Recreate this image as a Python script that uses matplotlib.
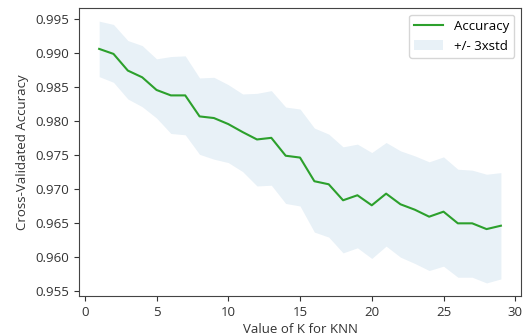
import numpy as np
import matplotlib
matplotlib.use("Agg")
import matplotlib.pyplot as plt

k_values = list(range(1, 30))
accuracy = [0.99066, 0.98992, 0.98746, 0.98647, 0.98460, 0.98380, 0.98380, 0.98070,
            0.98046, 0.97957, 0.97839, 0.97730, 0.97754, 0.97490, 0.97463, 0.97114,
            0.97069, 0.96833, 0.96907, 0.96759, 0.96931, 0.96774, 0.96694, 0.96591,
            0.96665, 0.96493, 0.96493, 0.96408, 0.96458]
band_upper = [0.99475, 0.99426, 0.99189, 0.99115, 0.98919, 0.98953, 0.98963, 0.98637,
              0.98647, 0.98538, 0.98401, 0.98410, 0.98450, 0.98208, 0.98179, 0.97898,
              0.97809, 0.97621, 0.97661, 0.97537, 0.97685, 0.97562, 0.97488, 0.97400,
              0.97473, 0.97291, 0.97277, 0.97217, 0.97241]
band_lower = [0.98657, 0.98573, 0.98327, 0.98213, 0.98046, 0.97818, 0.97799, 0.97510,
              0.97439, 0.97389, 0.97256, 0.97044, 0.97055, 0.96786, 0.96749, 0.96364,
              0.96290, 0.96057, 0.96132, 0.95975, 0.96157, 0.95994, 0.95901, 0.95797,
              0.95861, 0.95698, 0.95698, 0.95614, 0.95673]


def main():
    plt.rcParams['font.family'] = ['Open Sans', 'DejaVu Sans']
    fs = 9.5
    fig = plt.figure(figsize=(5.27, 3.36), dpi=100)
    ax = fig.add_subplot(111)
    fig.subplots_adjust(left=0.150, right=0.9886, top=0.976, bottom=0.119)

    ax.plot(k_values, accuracy, color='#2ca02c', linewidth=1.5, label='Accuracy')
    ax.fill_between(k_values, band_lower, band_upper, color='#1f77b4', alpha=0.1,
                    linewidth=0, label='+/- 3xstd')

    ax.set_yticks(np.arange(0.955, 0.9951, 0.005))
    ax.set_yticklabels(['%.3f' % v for v in np.arange(0.955, 0.9951, 0.005)])
    ax.tick_params(labelsize=fs, colors='#333333')
    for s in ax.spines.values():
        s.set_color('#444444')
    ax.set_xlabel('Value of K for KNN', fontsize=fs, labelpad=3, color='#333333')
    ax.set_ylabel('Cross-Validated Accuracy', fontsize=fs, labelpad=5, color='#333333')
    ax.legend(loc='upper right', fontsize=fs, handlelength=2.2)

    plt.savefig('out.png', dpi=100)


if __name__ == "__main__":
    main()
